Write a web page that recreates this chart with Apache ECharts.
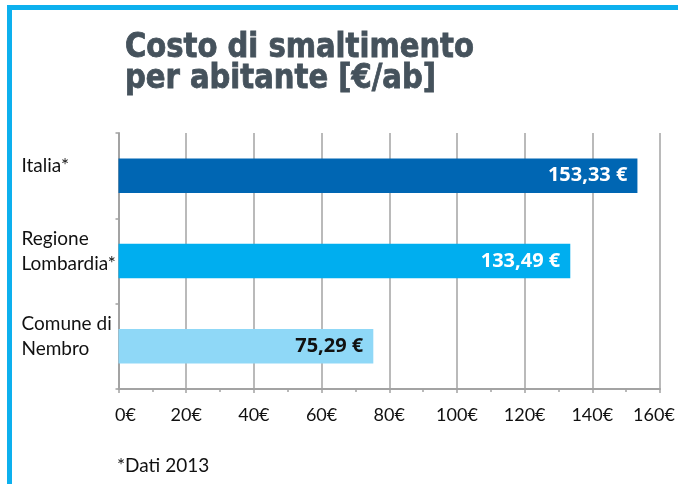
<!DOCTYPE html>
<html>
<head>
<meta charset="utf-8">
<style>
  html, body { margin: 0; padding: 0; background: #fff; }
  #chart { width: 678px; height: 484px; }
</style>
</head>
<body>
<div id="chart"></div>
<script src="https://cdn.jsdelivr.net/npm/echarts@6/dist/echarts.min.js"></script>
<script>
  // dati
  var categorie = ['Italia*', 'Regione\nLombardia*', 'Comune di\nNembro'];
  var costi = [153.33, 133.49, 75.29];
  var valoreMin = 0, valoreMax = 160, passo = 20;
  var coloriBarre = ['#0066b3', '#00aeef', '#8fd8f7'];
  var coloriEtichette = ['#ffffff', '#ffffff', '#111111'];
  var titolo = 'Costo di smaltimento\nper abitante [€/ab]';
  var nota = '*Dati 2013';

  var fontTesto = 'Lato, "Noto Sans", sans-serif';
  var grigio = '#a3a3a3';
  var stileTick = { fontFamily: fontTesto, fontSize: 18, color: '#111' };

  var myChart = echarts.init(document.getElementById('chart'));
  myChart.setOption({
    backgroundColor: '#fff',
    animation: false,
    grid: { left: 118.5, right: 18, top: 133, height: 256, outerBoundsMode: 'none', containLabel: false },
    xAxis: {
      type: 'value',
      min: valoreMin,
      max: valoreMax,
      interval: passo,
      axisLine: { show: true, lineStyle: { color: grigio, width: 2 } },
      axisTick: { show: true, length: 4, lineStyle: { color: grigio, width: 1.5 } },
      minorTick: { show: true, splitNumber: 2, length: 3, lineStyle: { color: grigio, width: 1.5 } },
      splitLine: { show: true, lineStyle: { color: grigio, width: 1.5 } },
      axisLabel: {
        margin: 17,
        fontFamily: fontTesto,
        fontSize: 18,
        color: '#111',
        // primo e ultimo spostati un po' verso l'interno come nell'originale
        formatter: function (v) {
          if (v === valoreMin) return '{a|' + v + '€}';
          if (v === valoreMax) return '{z|' + v + '€}';
          return v + '€';
        },
        rich: {
          a: Object.assign({ padding: [0, 0, 0, 14] }, stileTick),
          z: Object.assign({ padding: [0, 12, 0, 0] }, stileTick)
        }
      }
    },
    yAxis: {
      type: 'category',
      inverse: true,
      data: categorie,
      axisLine: { show: true, lineStyle: { color: grigio, width: 2 } },
      axisTick: { show: true, length: 3, lineStyle: { color: grigio, width: 1.5 } },
      axisLabel: {
        align: 'left',
        margin: 97,
        fontFamily: fontTesto,
        fontSize: 19,
        lineHeight: 25,
        color: '#111',
        // riga vuota sotto per alzare il testo rispetto alla barra
        formatter: function (v) { return v + '\n{g| }'; },
        rich: { g: { fontSize: 1, lineHeight: 19 } }
      }
    },
    series: [{
      type: 'bar',
      barWidth: 34.5,
      data: costi.map(function (v, i) {
        return {
          value: v,
          itemStyle: { color: coloriBarre[i] },
          label: { color: coloriEtichette[i] }
        };
      }),
      label: {
        show: true,
        position: 'insideRight',
        distance: 10,
        fontFamily: '"Noto Sans", sans-serif',
        fontWeight: 'bold',
        fontSize: 20,
        formatter: function (p) {
          return p.value.toFixed(2).replace('.', ',') + ' €';
        }
      }
    }],
    graphic: [
      { type: 'rect', shape: { x: 7, y: 5, width: 671, height: 5 }, style: { fill: '#0db0ee' } },
      { type: 'rect', shape: { x: 7, y: 5, width: 5, height: 479 }, style: { fill: '#0db0ee' } },
      {
        type: 'text', x: 125, y: 33, scaleX: 0.95,
        style: {
          text: titolo,
          font: 'bold 34px "DejaVu Sans Condensed", "DejaVu Sans", sans-serif',
          lineHeight: 31,
          fill: '#45525c',
          stroke: '#45525c',
          lineWidth: 0.8,
          verticalAlign: 'top'
        }
      },
      {
        type: 'text', x: 117, y: 456,
        style: { text: nota, font: '19px Lato, "Noto Sans", sans-serif', fill: '#111', verticalAlign: 'top' }
      }
    ]
  });
</script>
</body>
</html>
